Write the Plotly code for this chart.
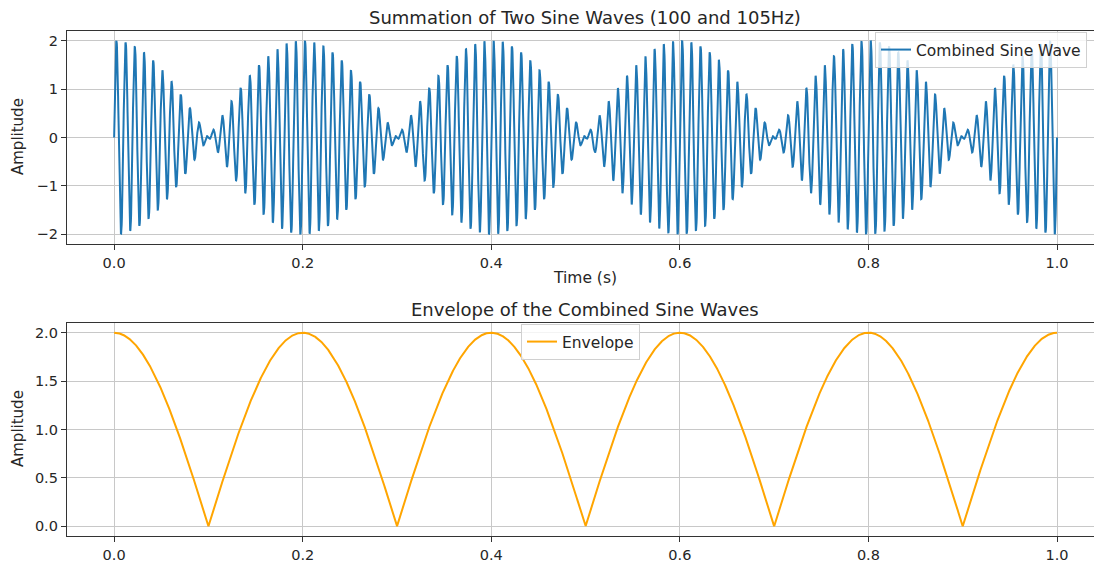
import numpy as np
import plotly.graph_objects as go

# ---- data (two sines of 100 Hz and 105 Hz, t = 0..1 s) ----
frequencies_hz = [100, 105]
time_span_s = [0.0, 1.0]
n_samples = 5000
x_ticks = [0.0, 0.2, 0.4, 0.6, 0.8, 1.0]
top_y_ticks = [-2, -1, 0, 1, 2]
bottom_y_ticks = [0.0, 0.5, 1.0, 1.5, 2.0]

t = np.linspace(time_span_s[0], time_span_s[1], n_samples)
combined = sum(np.sin(2 * np.pi * f * t) for f in frequencies_hz)
beat = abs(frequencies_hz[1] - frequencies_hz[0])
envelope = np.abs(2 * np.cos(np.pi * beat * t))

W, H = 1094, 564
def py(px):  # pixel y from top -> paper fraction
    return (H - px) / H

fig = go.Figure()
fig.add_trace(go.Scatter(x=t, y=combined, mode="lines", name="Combined Sine Wave",
                         line=dict(color="#1f77b4", width=2), xaxis="x", yaxis="y",
                         legend="legend"))
fig.add_trace(go.Scatter(x=t, y=envelope, mode="lines", name="Envelope",
                         line=dict(color="#FFA500", width=2), xaxis="x2", yaxis="y2",
                         legend="legend2"))

font = "DejaVu Sans"
txt = "#262626"
grid = "#c8c8c8"
xleft = 67 / W
x_range = [-0.05, (W - 114) / 943]

common_x = dict(range=x_range, tickvals=x_ticks, tickformat=".1f", showgrid=True,
                gridcolor=grid, gridwidth=1, showline=True, linecolor="#333333",
                linewidth=1.3, mirror=True, ticks="outside", ticklen=5, tickcolor="#333333",
                tickfont=dict(family=font, size=14.5, color=txt), zeroline=False,
                automargin=False, domain=[xleft, 1])
common_y = dict(showgrid=True, gridcolor=grid, gridwidth=1, showline=True,
                linecolor="#333333", linewidth=1.3, mirror=False, ticks="outside",
                ticklen=5, tickcolor="#333333", tickfont=dict(family=font, size=14.5, color=txt),
                zeroline=False, automargin=False)

fig.update_layout(
    width=W, height=H, margin=dict(l=0, r=0, t=0, b=0),
    paper_bgcolor="white", plot_bgcolor="white",
    xaxis=dict(**common_x, anchor="y"),
    yaxis=dict(**common_y, range=[-2.2, 2.2], tickvals=top_y_ticks,
               domain=[py(244), py(31)], anchor="x"),
    xaxis2=dict(**common_x, anchor="y2"),
    yaxis2=dict(**common_y, range=[-0.1, 2.1], tickvals=bottom_y_ticks, tickformat=".1f",
                domain=[py(536), py(323)], anchor="x2"),
    legend=dict(x=875 / W, y=py(32), xanchor="left", yanchor="top",
                bgcolor="rgba(255,255,255,0.8)", bordercolor="#d0d0d0", borderwidth=1,
                font=dict(family=font, size=15.5, color=txt)),
    legend2=dict(x=521 / W, y=py(324), xanchor="left", yanchor="top",
                 bgcolor="rgba(255,255,255,0.8)", bordercolor="#d0d0d0", borderwidth=1,
                 font=dict(family=font, size=15.5, color=txt)),
    showlegend=True,
    annotations=[
        dict(text="Summation of Two Sine Waves (100 and 105Hz)", x=585 / W, y=py(18),
             xref="paper", yref="paper", showarrow=False, xanchor="center", yanchor="middle",
             font=dict(family=font, size=18, color=txt)),
        dict(text="Envelope of the Combined Sine Waves", x=585 / W, y=py(309),
             xref="paper", yref="paper", showarrow=False, xanchor="center", yanchor="middle",
             font=dict(family=font, size=18, color=txt)),
        dict(text="Time (s)", x=585 / W, y=py(278), xref="paper", yref="paper",
             showarrow=False, xanchor="center", yanchor="middle",
             font=dict(family=font, size=15.5, color=txt)),
        dict(text="Amplitude", x=18 / W, y=py(137), xref="paper", yref="paper",
             showarrow=False, textangle=-90, xanchor="center", yanchor="middle",
             font=dict(family=font, size=15, color=txt)),
        dict(text="Amplitude", x=18 / W, y=py(429), xref="paper", yref="paper",
             showarrow=False, textangle=-90, xanchor="center", yanchor="middle",
             font=dict(family=font, size=15, color=txt)),
    ],
)

fig.write_html("out.html")
